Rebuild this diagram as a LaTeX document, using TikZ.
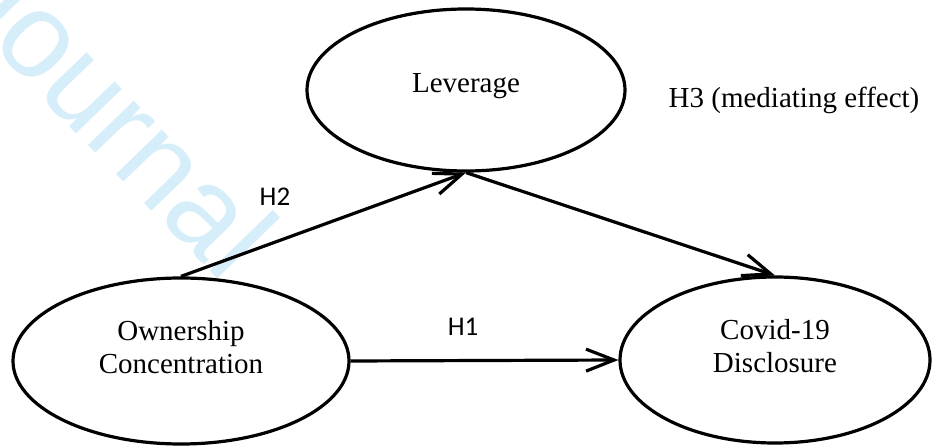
\documentclass[tikz,border=0pt]{standalone}
\usepackage{fontspec}
\setmainfont{Liberation Serif}
\newfontfamily\calibrifont{Carlito}
\newfontfamily\markfont{Liberation Sans}
\usetikzlibrary{shapes.geometric, arrows.meta}
\definecolor{markblue}{RGB}{214,238,250}

\begin{document}
\begin{tikzpicture}[x=1pt, y=-1pt, line width=3.2pt,
  var/.style={ellipse, draw, inner sep=0pt},
  txt/.style={font=\fontsize{29}{33}\selectfont, align=center},
  hyp/.style={font=\calibrifont\fontsize{27}{30}\selectfont},
  arr/.style={-{Straight Barb[length=28pt, width=22pt]}}]
\useasboundingbox (0,0) rectangle (932,446);

% Watermark
\node[rotate=-46, text=markblue, font=\markfont\fontsize{121}{121}\selectfont] (mark) at (116,112) {Journal};

% Variables
\node[var, minimum width=336pt, minimum height=166pt,
  label={[txt, yshift=14pt]center:{Ownership\\Concentration}}] (own) at (181,361) {};
\node[var, minimum width=318pt, minimum height=162pt,
  label={[txt, yshift=4pt]center:Leverage}] (lev) at (466,90) {};
\node[var, minimum width=310pt, minimum height=166pt,
  label={[txt, yshift=14pt]center:{Covid-19\\Disclosure}}] (cov) at (775,360) {};

% Paths
\draw[arr] (own.north) -- (lev.south);
\draw[arr] (lev.south) -- (cov.north);
\draw[arr] (own.east) -- (cov.west);

% Hypotheses
\node[hyp] (h1) at (463,327) {H1};
\node[hyp] (h2) at (275,197) {H2};
\node[txt] (h3) at (794,100) {H3 (mediating effect)};
\end{tikzpicture}
\end{document}
